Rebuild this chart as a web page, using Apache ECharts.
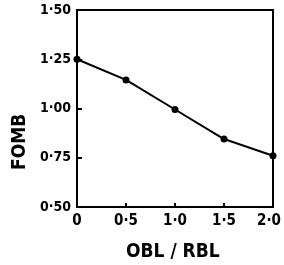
<!DOCTYPE html>
<html>
<head>
<meta charset="utf-8">
<script src="https://cdn.jsdelivr.net/npm/echarts@6/dist/echarts.min.js"></script>
<style>
  html, body { margin: 0; padding: 0; background: #fff; }
  #main { width: 284px; height: 265px; }
</style>
</head>
<body>
<div id="main"></div>
<script>
// values
var xVals = [0, 0.5, 1.0, 1.5, 2.0];
var fomB = [1.25, 1.145, 0.995, 0.845, 0.76];
var xTickLabels = { '0': '0', '0.5': '0·5', '1': '1·0', '1.5': '1·5', '2': '2·0' };
var yTickLabels = { '0.5': '0·50', '0.75': '0·75', '1': '1·00', '1.25': '1·25', '1.5': '1·50' };
var xTitle = 'OBL / RBL';
var yTitle = 'FOMB';

var font = 'DejaVu Sans Condensed';
var myChart = echarts.init(document.getElementById('main'));

var points = xVals.map(function (x, i) { return [x, fomB[i]]; });

myChart.setOption({
  animation: false,
  backgroundColor: '#ffffff',
  grid: {
    left: 77, right: 11, top: 10, bottom: 58,
    outerBoundsMode: 'none', containLabel: false,
    show: true, borderColor: '#000', borderWidth: 2
  },
  graphic: [
    {
      type: 'text', left: 126, top: 243,
      style: { text: xTitle, fill: '#000', font: 'bold 19px "DejaVu Sans Condensed"' }
    },
    {
      type: 'text', x: 11, y: 170, rotation: Math.PI / 2,
      style: { text: yTitle, fill: '#000', font: 'bold 19px "DejaVu Sans Condensed"' }
    }
  ],
  xAxis: {
    type: 'value',
    min: 0, max: 2, interval: 0.5,
    axisLine: { lineStyle: { color: '#000', width: 2 } },
    axisTick: { inside: true, length: 4, lineStyle: { color: '#000', width: 2 } },
    splitLine: { show: false },
    axisLabel: {
      color: '#000', fontFamily: font, fontSize: 15, fontWeight: 'bold', margin: 7,
      formatter: function (v) {
        var t = xTickLabels[String(v)];
        return v === 2 ? '{last|' + t + '}' : t;
      },
      rich: {
        last: { color: '#000', fontFamily: font, fontSize: 15, fontWeight: 'bold', padding: [0, 8, 0, 0] }
      }
    }
  },
  yAxis: {
    type: 'value',
    min: 0.5, max: 1.5, interval: 0.25,
    axisLine: { lineStyle: { color: '#000', width: 2 } },
    axisTick: { inside: true, length: 5, lineStyle: { color: '#000', width: 2 } },
    splitLine: { show: false },
    axisLabel: {
      color: '#000', fontFamily: font, fontSize: 14, fontWeight: 'bold', margin: 6,
      formatter: function (v) { return yTickLabels[String(v)]; }
    }
  },
  series: [{
    type: 'line',
    data: points,
    symbol: 'circle',
    symbolSize: 7,
    lineStyle: { color: '#000', width: 2 },
    itemStyle: { color: '#000' }
  }]
});
</script>
</body>
</html>
